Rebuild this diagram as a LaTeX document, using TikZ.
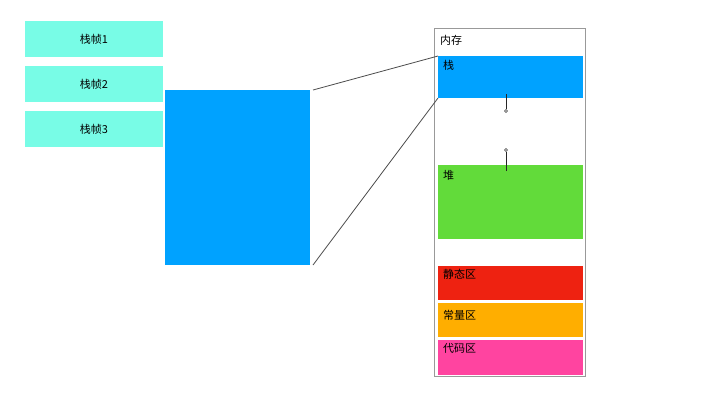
\documentclass[tikz,border=0pt]{standalone}
\usepackage{fontspec}
\newfontfamily\cjk{Noto Sans CJK SC}
\begin{document}
\begin{tikzpicture}[x=1pt,y=-1pt,
  box/.style={draw=none,inner sep=0pt,outer sep=0pt,anchor=north west},
  frame/.style={box,fill=frameC,minimum width=138pt,minimum height=36pt,
    font=\cjk\fontsize{11}{13}\selectfont,text=black},
  area/.style={box,fill=#1,minimum width=145pt},
  lbl/.style={anchor=north west,inner sep=0pt,font=\cjk\fontsize{11}{13}\selectfont,text=black},
  link/.style={draw=black!70,line width=0.8pt},
  tie/.style={draw=black!85,line width=0.9pt},
  knob/.style={circle,draw=black!80,fill=white,inner sep=0pt,minimum size=3pt,line width=0.6pt}]
\definecolor{frameC}{HTML}{78FCE6}
\definecolor{stackC}{HTML}{00A2FF}
\definecolor{heapC}{HTML}{62DB3A}
\definecolor{staticC}{HTML}{EE2211}
\definecolor{constC}{HTML}{FFAE00}
\definecolor{codeC}{HTML}{FF44A0}
\useasboundingbox (0,0) rectangle (720,405);
\fill[white] (0,0) rectangle (720,405);

% stack frames
\node[frame] (f1) at (25,21) {栈帧1};
\node[frame] (f2) at (25,66) {栈帧2};
\node[frame] (f3) at (25,111) {栈帧3};

% enlarged stack
\node[box,fill=stackC,minimum width=145pt,minimum height=175pt] (big) at (165,90) {};

% memory layout
\node[box,draw=black!40,line width=0.8pt,minimum width=151pt,minimum height=348pt] (mem) at (434,28) {};
\node[lbl] (memt) at (440,35) {内存};
\node[area=stackC,minimum height=42pt] (stack) at (438,56) {};
\node[lbl] (stackt) at (443,60) {栈};
\node[area=heapC,minimum height=74pt] (heap) at (438,165) {};
\node[lbl] (heapt) at (443,170) {堆};
\node[area=staticC,minimum height=34pt] (static) at (438,266) {};
\node[lbl] (statict) at (443,269) {静态区};
\node[area=constC,minimum height=34pt] (const) at (438,303) {};
\node[lbl] (constt) at (443,310) {常量区};
\node[area=codeC,minimum height=35pt] (code) at (438,340) {};
\node[lbl] (codet) at (443,343) {代码区};

% growth markers of stack and heap
\coordinate (sTop) at (506,94);
\node[knob] (sEnd) at (506,111) {};
\coordinate (hTop) at (506,171);
\node[knob] (hEnd) at (506,150) {};
\draw[tie] (sTop) -- (sEnd);
\draw[tie] (hTop) -- (hEnd);

% zoom lines
\draw[link] ([xshift=3pt]big.north east) -- (stack.north west);
\draw[link] ([xshift=3pt]big.south east) -- (stack.south west);
\end{tikzpicture}
\end{document}
